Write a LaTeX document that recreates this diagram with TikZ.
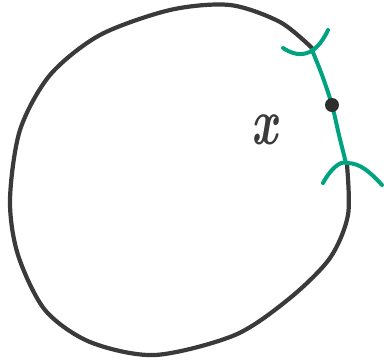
\documentclass[tikz,border=0pt]{standalone}
\usepackage{fontspec}
\usepackage{xcolor}
\usepackage{tikz}
\definecolor{inkgrey}{RGB}{58,58,58}
\definecolor{inkgreen}{RGB}{0,163,127}

\begin{document}
\begin{tikzpicture}[
    x=1pt, y=-1pt,
    pen/.style={draw=inkgrey, line width=4.2pt, line cap=round, line join=round},
    gpen/.style={draw=inkgreen, line width=4pt, line cap=round, line join=round},
    letter/.style={text=inkgrey, font=\fontsize{66}{66}\selectfont\bfseries\itshape, xscale=0.7, inner sep=0pt}
]
\useasboundingbox (0,0) rectangle (384,360);

% the circle, open where the green arc lies
\draw[pen] plot[smooth] coordinates {
  (347,165) (348,215) (330,258) (290,298) (235,335) (155,355) (90,342)
  (45,310) (18,255) (10,200) (20,130) (50,75) (100,35) (170,10)
  (230,5) (280,22) (312,48)};

% green arc with its two end brackets
\draw[gpen] plot[smooth] coordinates {(312,50) (322,75) (332,105) (339,135) (346,163)};
\draw[gpen] (283,48) .. controls (298,58) and (315,58) .. (328,30);
\draw[gpen] (323,183) .. controls (330,170) and (340,160) .. (347,163)
            .. controls (360,163) and (370,172) .. (382,185);

% point on the arc
\node[circle, fill=inkgrey!80!black, inner sep=0pt, minimum size=14pt] (pt) at (332,105) {};

\node[letter] (xlab) at (264,130) {x};
\end{tikzpicture}
\end{document}
